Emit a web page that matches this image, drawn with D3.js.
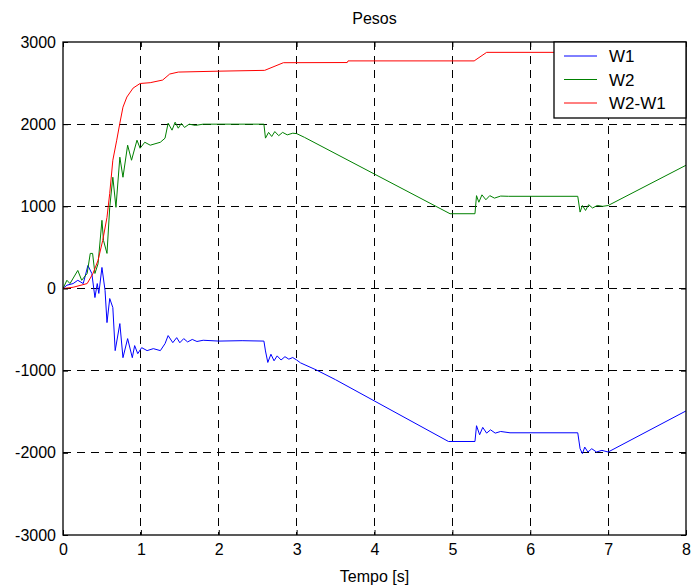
<!DOCTYPE html>
<html>
<head>
<meta charset="utf-8">
<script src="https://cdn.jsdelivr.net/npm/d3@7"></script>
<style>
  body { margin: 0; background: #fff; }
</style>
</head>
<body>
<svg width="694" height="587"></svg>
<script>
  // [tempo (s), peso]
  const w1 = [
    [0, 0], [0.05, 40], [0.13, 60], [0.19, 100], [0.26, 60], [0.32, 280],
    [0.37, 183], [0.41, -110], [0.44, 60], [0.46, -60], [0.5, 256], [0.54, -24],
    [0.565, -415], [0.6, -122], [0.64, -232], [0.67, -756], [0.73, -427],
    [0.77, -842], [0.83, -610], [0.89, -842], [0.92, -695], [0.96, -793],
    [1.01, -720], [1.08, -756], [1.16, -732], [1.25, -756], [1.31, -671],
    [1.35, -573], [1.41, -659], [1.46, -598], [1.5, -660], [1.55, -610],
    [1.6, -650], [1.66, -620], [1.72, -645], [1.8, -630], [2.0, -640],
    [2.3, -635], [2.58, -640], [2.6, -760], [2.63, -900], [2.67, -800],
    [2.71, -880], [2.75, -820], [2.8, -870], [2.85, -830], [2.9, -860],
    [2.95, -840], [3.0, -870], [3.05, -905], [3.25, -990], [3.5, -1110],
    [4.95, -1862], [5.29, -1862], [5.31, -1670], [5.35, -1780], [5.39, -1690],
    [5.44, -1760], [5.49, -1720], [5.55, -1760], [5.62, -1740], [5.74, -1756],
    [6.61, -1756], [6.64, -1950], [6.67, -2010], [6.7, -1930], [6.74, -1990],
    [6.79, -1950], [6.85, -1990], [6.92, -1970], [7.0, -1990], [8.0, -1490]
  ];

  const w2 = [
    [0, 0], [0.05, 100], [0.09, 60], [0.19, 220], [0.24, 100], [0.31, 183],
    [0.35, 427], [0.38, 427], [0.41, 183], [0.45, 300], [0.5, 830], [0.52, 585],
    [0.565, 427], [0.6, 988], [0.64, 1354], [0.68, 988], [0.73, 1598],
    [0.77, 1354], [0.83, 1744], [0.88, 1561], [0.95, 1805], [0.99, 1707],
    [1.05, 1780], [1.12, 1744], [1.25, 1780], [1.31, 1829], [1.35, 2012],
    [1.4, 1927], [1.44, 2024], [1.48, 1951], [1.52, 2010], [1.56, 1960],
    [1.62, 2000], [1.7, 1985], [1.8, 2000], [2.0, 2000], [2.58, 2000],
    [2.6, 1830], [2.64, 1900], [2.68, 1850], [2.72, 1910], [2.77, 1860],
    [2.82, 1900], [2.88, 1870], [2.95, 1890], [3.0, 1885], [3.1, 1840],
    [4.97, 910], [5.29, 910], [5.31, 1130], [5.34, 1050], [5.38, 1140],
    [5.43, 1080], [5.48, 1130], [5.54, 1100], [5.62, 1125], [5.72, 1122],
    [6.61, 1122], [6.64, 930], [6.67, 1010], [6.71, 950], [6.75, 1020],
    [6.8, 980], [6.86, 1010], [6.93, 1000], [7.0, 1010], [8.0, 1500]
  ];

  const w2MinusW1 = [
    [0, 0], [0.13, 15], [0.31, 60], [0.385, 183], [0.45, 342], [0.51, 585],
    [0.565, 866], [0.6, 1158], [0.64, 1561], [0.69, 1805], [0.73, 2012],
    [0.77, 2207], [0.82, 2330], [0.9, 2439], [0.99, 2495], [1.12, 2505],
    [1.28, 2537], [1.37, 2610], [1.48, 2634], [2.0, 2645], [2.59, 2655],
    [2.83, 2748], [3.65, 2750], [3.66, 2770], [5.28, 2770], [5.44, 2874],
    [8.0, 2874]
  ];

  const xTicks = [0, 1, 2, 3, 4, 5, 6, 7, 8];
  const yTicks = [-3000, -2000, -1000, 0, 1000, 2000, 3000];
  const seriesNames = ["W1", "W2", "W2-W1"];
  const seriesColors = ["#0000ff", "#008000", "#ff0000"];

  const font = "'Liberation Sans', Arial, sans-serif";
  const svg = d3.select("svg");
  const margin = { top: 42, right: 8, bottom: 52, left: 63 };
  const width = +svg.attr("width");
  const height = +svg.attr("height");
  const innerWidth = width - margin.left - margin.right;
  const innerHeight = height - margin.top - margin.bottom;

  const xScale = d3.scaleLinear().domain([0, 8]).range([0, innerWidth]);
  const yScale = d3.scaleLinear().domain([-3000, 3000]).range([innerHeight, 0]);

  const g = svg.append("g")
    .attr("transform", `translate(${margin.left},${margin.top})`);

  g.append("clipPath").attr("id", "clip")
    .append("rect").attr("width", innerWidth).attr("height", innerHeight);

  // grid
  const grid = g.append("g")
    .attr("stroke", "#000")
    .attr("stroke-width", 1)
    .attr("stroke-dasharray", "8,6")
    .attr("shape-rendering", "crispEdges");
  grid.selectAll(".vg").data(xTicks.slice(1, -1)).enter().append("line")
    .attr("x1", (d) => xScale(d)).attr("x2", (d) => xScale(d))
    .attr("y1", 0).attr("y2", innerHeight);
  grid.selectAll(".hg").data(yTicks.slice(1, -1)).enter().append("line")
    .attr("x1", 0).attr("x2", innerWidth)
    .attr("y1", (d) => yScale(d)).attr("y2", (d) => yScale(d));

  // curves
  const line = d3.line()
    .x((d) => xScale(d[0]))
    .y((d) => yScale(d[1]));

  const series = [w1, w2, w2MinusW1];
  g.append("g").attr("clip-path", "url(#clip)")
    .selectAll("path").data(series).enter().append("path")
    .attr("d", line)
    .attr("fill", "none")
    .attr("stroke", (d, i) => seriesColors[i])
    .attr("stroke-width", 1);

  // axes with inward ticks, MATLAB style (plain hyphen for negatives)
  const fmt = (d) => String(d);
  const xAxisG = g.append("g")
    .attr("transform", `translate(0,${innerHeight})`)
    .call(d3.axisBottom(xScale).tickValues(xTicks).tickFormat(fmt).tickSize(-5).tickPadding(9));
  const yAxisG = g.append("g")
    .call(d3.axisLeft(yScale).tickValues(yTicks).tickFormat(fmt).tickSize(-5).tickPadding(7));
  const topG = g.append("g").call(d3.axisTop(xScale).tickValues(xTicks).tickSize(-5));
  const rightG = g.append("g").attr("transform", `translate(${innerWidth},0)`)
    .call(d3.axisRight(yScale).tickValues(yTicks).tickSize(-5));
  topG.selectAll("text").remove();
  rightG.selectAll("text").remove();

  g.selectAll(".domain").remove();
  g.selectAll(".tick line").attr("stroke", "#000");
  [xAxisG, yAxisG].forEach((a) =>
    a.attr("font-family", font).attr("font-size", 16)
      .selectAll("text").attr("fill", "#000"));

  g.append("rect")
    .attr("width", innerWidth).attr("height", innerHeight)
    .attr("fill", "none").attr("stroke", "#000").attr("stroke-width", 1.3);

  g.append("text")
    .attr("x", innerWidth / 2).attr("y", -18)
    .attr("text-anchor", "middle")
    .attr("font-family", font).attr("font-size", 16)
    .text("Pesos");

  g.append("text")
    .attr("x", innerWidth / 2).attr("y", innerHeight + 47)
    .attr("text-anchor", "middle")
    .attr("font-family", font).attr("font-size", 16)
    .text("Tempo [s]");

  // legend
  const legend = g.append("g").attr("transform", `translate(${innerWidth - 132},0)`);
  legend.append("rect").attr("width", 132).attr("height", 76)
    .attr("fill", "#fff").attr("stroke", "#000").attr("stroke-width", 1.3);
  const rows = legend.selectAll(".row").data(seriesNames).enter().append("g")
    .attr("transform", (d, i) => `translate(0,${14 + i * 23.5})`);
  rows.append("line").attr("x1", 10).attr("x2", 43)
    .attr("stroke", (d, i) => seriesColors[i]).attr("stroke-width", 1);
  rows.append("text")
    .attr("x", 55).attr("y", 6)
    .attr("font-family", font).attr("font-size", 17)
    .text((d) => d);
</script>
</body>
</html>
